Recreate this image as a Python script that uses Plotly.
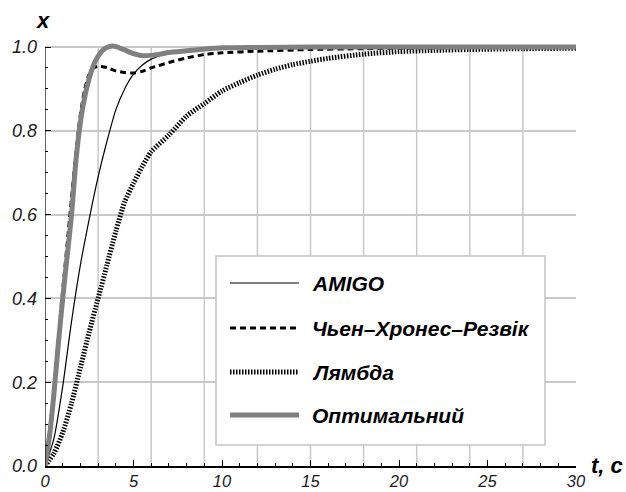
import plotly.graph_objects as go

# ---------------- data ----------------
t_opt = [0, 0.25, 0.5, 0.75, 1.0, 1.25, 1.5, 1.75, 2.0, 2.25, 2.5, 2.75, 3.0, 3.25, 3.5, 3.75,
         4.0, 4.5, 5.0, 5.5, 6.0, 6.5, 7, 8, 9, 10, 12, 15, 20, 25, 30]
x_opt = [0, 0.07, 0.17, 0.29, 0.40, 0.50, 0.60, 0.73, 0.82, 0.882, 0.925, 0.958, 0.978, 0.992,
         0.999, 1.002, 1.001, 0.993, 0.984, 0.979, 0.980, 0.983, 0.987, 0.991, 0.995, 0.998,
         0.999, 1.0, 1.0, 1.0, 1.0]

t_chr = [0, 0.25, 0.5, 0.75, 1.0, 1.25, 1.5, 1.75, 2.0, 2.25, 2.5, 2.75, 3.0, 3.5, 4.0, 4.5,
         5.0, 5.5, 6.0, 7.0, 8.0, 9.0, 10, 12, 15, 18, 20, 25, 30]
x_chr = [0, 0.08, 0.18, 0.30, 0.42, 0.53, 0.64, 0.75, 0.84, 0.90, 0.935, 0.950, 0.954, 0.951,
         0.943, 0.939, 0.938, 0.942, 0.950, 0.963, 0.974, 0.982, 0.986, 0.990, 0.994, 0.996,
         0.997, 0.999, 1.0]

t_amigo = [0, 0.5, 1.0, 1.5, 2.0, 2.5, 3.0, 3.5, 4.0, 4.5, 5.0, 5.5, 6.0, 6.5,
           7, 8, 9, 10, 12, 15, 20, 30]
x_amigo = [0, 0.065, 0.19, 0.345, 0.48, 0.59, 0.69, 0.775, 0.85, 0.90, 0.935, 0.957, 0.971,
           0.979, 0.985, 0.991, 0.995, 0.997, 0.999, 1.0, 1.0, 1.0]

t_lam = [0, 0.5, 1.0, 1.5, 2.0, 2.5, 3.0, 3.5, 4.0, 4.5, 5.0, 5.5, 6, 7, 8, 9, 10, 11, 12, 13,
         14, 15, 16, 18, 20, 22, 24, 27, 30]
x_lam = [0, 0.03, 0.08, 0.15, 0.235, 0.32, 0.40, 0.48, 0.56, 0.63, 0.675, 0.715, 0.75, 0.79,
         0.835, 0.865, 0.895, 0.915, 0.933, 0.947, 0.958, 0.966, 0.973, 0.983, 0.989, 0.992,
         0.994, 0.996, 0.997]

names = ["AMIGO", "Чьен\u2013Хронес\u2013Резвік", "Лямбда", "Оптимальний"]
x_ticks = [0, 5, 10, 15, 20, 25, 30]
y_ticks = [0.0, 0.2, 0.4, 0.6, 0.8, 1.0]
x_grid = [3, 6, 9, 12, 15, 18, 21, 24, 27]

# ---------------- layout geometry (pixels) ----------------
W, H = 626, 492
L, R, T, B = 45, 576, 42, 466          # plot area
Y0PX, Y1PX = 466, 47                   # pixel rows of x=0 and x=1
ymax = 1 + (Y1PX - T) / (Y0PX - Y1PX)

def px(xp):
    return (xp - L) / (R - L)

def py(yp):
    return (B - yp) / (B - T)

FONT = "Liberation Sans"

styles = [
    dict(color="black", width=1.2),
    dict(color="black", width=3, dash="6px,4px"),
    dict(color="black", width=5, dash="1.5px,1.5px"),
    dict(color="#808080", width=5),
]
series = [(t_amigo, x_amigo), (t_chr, x_chr), (t_lam, x_lam), (t_opt, x_opt)]

fig = go.Figure()
for (tt, xx), nm, st in zip(series, names, styles):
    fig.add_trace(go.Scatter(x=tt, y=xx, mode="lines", name=nm, line=dict(shape="spline",
                             smoothing=0.7, **st), showlegend=False))

shapes = []
for g in x_grid:
    shapes.append(dict(type="line", xref="x", yref="y", x0=g, x1=g, y0=0, y1=1,
                       line=dict(color="#c8c8c8", width=1.5), layer="below"))
# left axis line (0..1 only)
shapes.append(dict(type="line", xref="x", yref="y", x0=0, x1=0, y0=0, y1=1,
                   line=dict(color="black", width=1.2), layer="above"))

# manual legend
LEG = (216, 256, 545, 445)
shapes.append(dict(type="rect", xref="paper", yref="paper", x0=px(LEG[0]), x1=px(LEG[2]),
                   y0=py(LEG[3]), y1=py(LEG[1]), fillcolor="white",
                   line=dict(color="#c4c4c4", width=1.5), layer="above"))
rows = [283, 328, 372, 415]
annotations = []
for r, nm, st in zip(rows, names, styles):
    shapes.append(dict(type="line", xref="paper", yref="paper", x0=px(230), x1=px(299),
                       y0=py(r), y1=py(r), line=st, layer="above"))
    annotations.append(dict(xref="paper", yref="paper", x=px(310), y=py(r), text=nm,
                            showarrow=False, xanchor="left", yanchor="middle",
                            font=dict(family=FONT, size=21, color="black",
                                      style="italic", weight="bold")))

# axis titles
annotations.append(dict(xref="paper", yref="paper", x=px(43), y=py(20), text="x",
                        showarrow=False, xanchor="center", yanchor="middle",
                        font=dict(family=FONT, size=22, color="black", style="italic",
                                  weight="bold")))
annotations.append(dict(xref="paper", yref="paper", x=px(589), y=py(465), text="t, c",
                        showarrow=False, xanchor="left", yanchor="middle",
                        font=dict(family=FONT, size=22, color="black", style="italic",
                                  weight="bold")))

xtickfont = dict(family=FONT, size=16.5, color="#1a1a1a", style="italic")
ytickfont = dict(family=FONT, size=18, color="#1a1a1a", style="italic")
fig.update_layout(
    width=W, height=H,
    margin=dict(l=L, r=W - R, t=T, b=H - B, autoexpand=False),
    paper_bgcolor="white", plot_bgcolor="white",
    showlegend=False,
    shapes=shapes, annotations=annotations,
    xaxis=dict(range=[0, 30], tickvals=x_ticks, ticktext=[str(v) for v in x_ticks],
               showgrid=False, zeroline=False, showline=True, linecolor="black",
               linewidth=2, ticks="inside", ticklen=6, tickwidth=1, tickcolor="black",
               tickfont=xtickfont, ticklabelstandoff=-1,
               minor=dict(dtick=1, tick0=0, ticks="inside", ticklen=3, tickcolor="black",
                          showgrid=False)),
    yaxis=dict(range=[0, ymax], tickvals=y_ticks, ticktext=[f"{v:.1f}" for v in y_ticks],
               showgrid=True, gridcolor="#c8c8c8", gridwidth=1.5, zeroline=False,
               showline=False, ticks="inside", ticklen=6, tickwidth=1, tickcolor="black",
               tickfont=ytickfont, ticklabelstandoff=7,
               minor=dict(tickvals=[v / 100 for v in range(5, 100, 5)], ticks="inside",
                          ticklen=3, tickcolor="black", showgrid=False)),
)

fig.write_html("out.html")
